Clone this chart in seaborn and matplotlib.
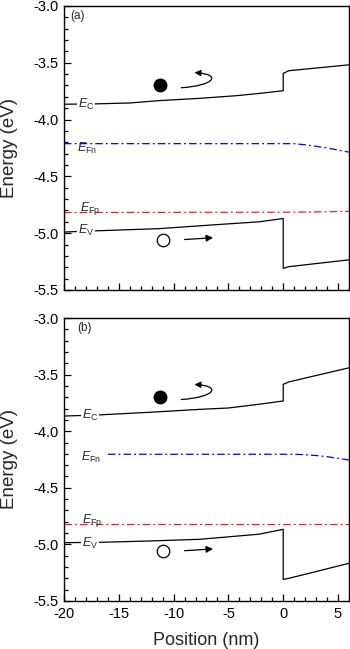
import numpy as np
import pandas as pd
import matplotlib
matplotlib.use("Agg")
import matplotlib.pyplot as plt
from matplotlib.path import Path
from matplotlib.patches import FancyArrowPatch
from matplotlib.ticker import MultipleLocator
import seaborn as sns

# --------------------------------------------------------------
# Band data (position in nm, energy in eV)
# --------------------------------------------------------------
ec_x_a = [-20, -17.2, -14.0, -11.3, -7.6, -4.3, -2.2, 0, 0, 0.5, 5.8, 6]
ec_a = [-3.865, -3.862, -3.854, -3.833, -3.813, -3.79, -3.77, -3.746, -3.594, -3.57, -3.52, -3.518]
ev_x_a = [-20, -17.3, -11.3, -6.1, -2.2, 0, 0, 0.5, 5.8, 6]
ev_a = [-4.99, -4.98, -4.96, -4.925, -4.90, -4.871, -5.31, -5.295, -5.237, -5.235]
efn_x_a = [-20, 1.0, 2.0, 3.9, 5.8, 6]
efn_a = [-4.212, -4.212, -4.222, -4.248, -4.283, -4.287]
efp_x_a = [-20, 1.5, 6]
efp_a = [-4.818, -4.815, -4.808]

ec_x_b = [-20, -17.0, -12.2, -7.6, -5.0, -2.2, 0, 0, 0.5, 2.6, 6]
ec_b = [-3.866, -3.857, -3.833, -3.807, -3.795, -3.762, -3.733, -3.586, -3.565, -3.517, -3.44]
ev_x_b = [-20, -16.4, -12.2, -7.6, -2.2, 0, 0, 0.5, 2.6, 6]
ev_b = [-4.985, -4.981, -4.97, -4.955, -4.91, -4.867, -5.31, -5.30, -5.25, -5.167]
efn_x_b = [-16.0, 1.0, 2.0, 3.0, 4.0, 5.0, 6]
efn_b = [-4.204, -4.204, -4.208, -4.215, -4.225, -4.24, -4.255]
efp_x_b = [-20, 6]
efp_b = [-4.822, -4.822]

panels = ["(a)", "(b)"]
x_ticks = [-20, -15, -10, -5, 0, 5]
y_ticks = [-3.0, -3.5, -4.0, -4.5, -5.0, -5.5]

# --------------------------------------------------------------
# Style
# --------------------------------------------------------------
sns.set_style("ticks")
plt.rcParams["font.family"] = ["Liberation Sans", "DejaVu Sans"]
plt.rcParams["mathtext.fontset"] = "custom"
plt.rcParams["mathtext.rm"] = "Liberation Sans"
plt.rcParams["mathtext.it"] = "Liberation Sans:italic"
plt.rcParams["axes.unicode_minus"] = False

fig = plt.figure(figsize=(3.5, 6.49), dpi=100)
ax_a = fig.add_axes([0.183, 0.5532, 0.814, 0.4376])
ax_b = fig.add_axes([0.183, 0.074, 0.814, 0.436])

dash_dot = (6, 2.5, 1.5, 2.5)


def draw_panel(ax, ec_x, ec, ev_x, ev, efn_x, efn, efp_x, efp, tag, tag_x, lab_pos):
    sns.lineplot(x=ec_x, y=ec, sort=False, estimator=None, color="k", lw=0.9, ax=ax)
    sns.lineplot(x=ev_x, y=ev, sort=False, estimator=None, color="k", lw=0.9, ax=ax)
    sns.lineplot(x=efn_x, y=efn, sort=False, estimator=None, color="#0000ff",
                 lw=0.9, ax=ax).lines[-1].set_dashes(dash_dot)
    sns.lineplot(x=efp_x, y=efp, sort=False, estimator=None, color="#ff1a1a",
                 lw=0.9, ax=ax).lines[-1].set_dashes(dash_dot)

    white = dict(facecolor="white", edgecolor="none", pad=0.6)
    ax.text(lab_pos["c"][0], lab_pos["c"][1], r"$E_{\mathrm{C}}$", fontsize=9,
            ha="center", va="center", bbox=white, zorder=5)
    ax.text(lab_pos["v"][0], lab_pos["v"][1], r"$E_{\mathrm{V}}$", fontsize=9,
            ha="center", va="center", bbox=white, zorder=5)
    ax.text(lab_pos["fn"][0], lab_pos["fn"][1], r"$E_{\mathrm{Fn}}$", fontsize=9,
            ha="center", va="center", zorder=5)
    ax.text(lab_pos["fp"][0], lab_pos["fp"][1], r"$E_{\mathrm{Fp}}$", fontsize=9,
            ha="center", va="center", zorder=5)

    # electron and hole
    ax.plot(-11.2, -3.695, "o", ms=9, color="k")
    ax.plot(-11.0, -5.062, "o", ms=9, mfc="white", mec="k", mew=0.9)

    # curved arrow next to the electron
    hook = Path([(-9.3, -3.72), (-6.2, -3.70), (-5.6, -3.60), (-8.1, -3.587)],
                [Path.MOVETO, Path.CURVE4, Path.CURVE4, Path.CURVE4])
    ax.add_patch(FancyArrowPatch(path=hook, arrowstyle="-|>", mutation_scale=9,
                                 color="k", lw=0.9))
    # straight arrow next to the hole
    ax.annotate("", xy=(-6.4, -5.04), xytext=(-9.0, -5.056),
                arrowprops=dict(arrowstyle="-|>", color="k", lw=0.9,
                                mutation_scale=10, shrinkA=0, shrinkB=0))

    ax.text(tag_x, -3.085, tag, fontsize=8.5, ha="left", va="center")

    ax.set_xlim(-20, 6)
    ax.set_ylim(-5.5, -3.0)
    ax.set_xticks(x_ticks)
    ax.set_yticks(y_ticks)
    ax.xaxis.set_minor_locator(MultipleLocator(1))
    ax.yaxis.set_minor_locator(MultipleLocator(0.1))
    ax.tick_params(which="both", direction="in", top=False, right=False,
                   width=0.9, labelsize=10.5, color="k", labelcolor="k")
    ax.tick_params(which="major", length=5, pad=4)
    ax.tick_params(which="minor", length=2.8)
    for s in ax.spines.values():
        s.set_linewidth(1.0)
        s.set_color("k")
    ax.set_ylabel("Energy (eV)", fontsize=13.5, labelpad=11)


draw_panel(ax_a, ec_x_a, ec_a, ev_x_a, ev_a, efn_x_a, efn_a, efp_x_a, efp_a,
           panels[0], -19.4, {"c": (-18.0, -3.865), "v": (-18.0, -4.98),
                              "fn": (-17.9, -4.25), "fp": (-17.6, -4.78)})
draw_panel(ax_b, ec_x_b, ec_b, ev_x_b, ev_b, efn_x_b, efn_b, efp_x_b, efp_b,
           panels[1], -18.8, {"c": (-17.6, -3.862), "v": (-17.6, -4.99),
                              "fn": (-17.5, -4.23), "fp": (-17.4, -4.785)})

ax_a.tick_params(axis="x", labelbottom=False)
ax_b.set_xlabel("Position (nm)", fontsize=13, labelpad=8)

plt.savefig("out.png", dpi=100)
